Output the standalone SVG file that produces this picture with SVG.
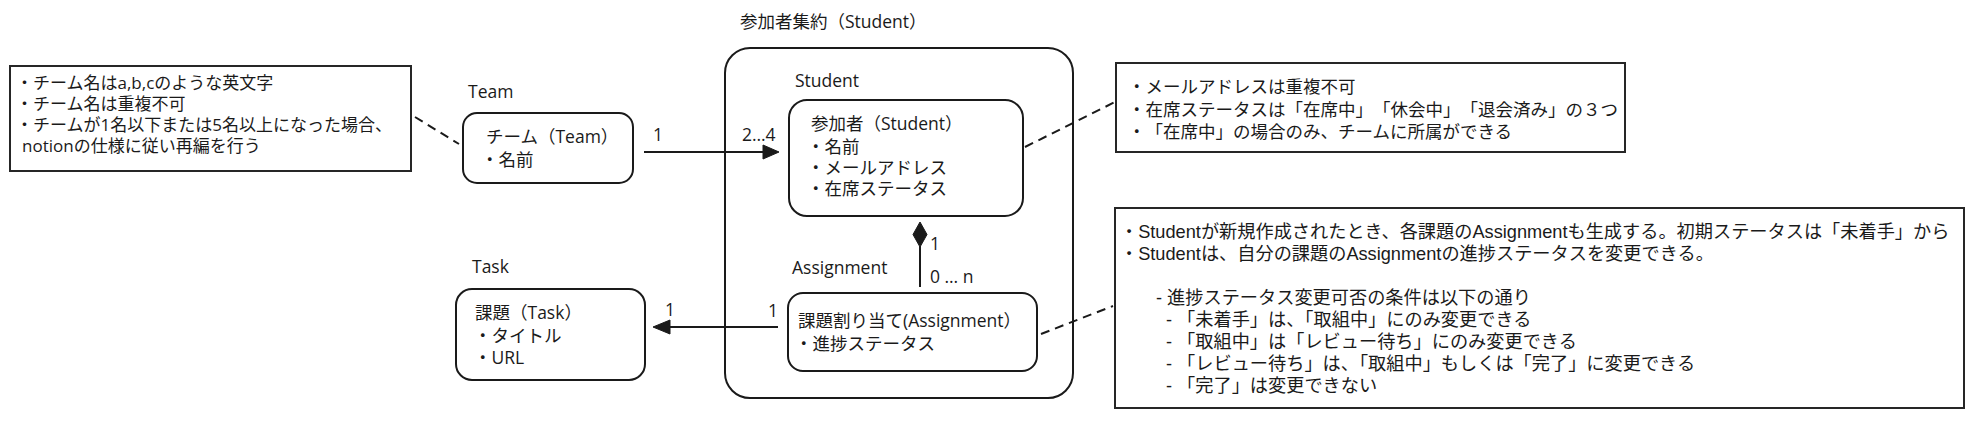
<svg xmlns="http://www.w3.org/2000/svg" width="1974" height="433" viewBox="0 0 1974 433">
<style>
text{font-family:'Open Sans','Noto Sans CJK JP',sans-serif;font-size:17.5px;fill:#1a1a1a}
.n1 text{font-size:17px}
.n2 text{font-size:17.5px;text-spacing-trim:space-all}
.n3 text{font-family:'Liberation Sans','Noto Sans CJK JP',sans-serif;font-size:18.2px}
.box{fill:#fff;stroke:#1a1a1a;stroke-width:2}
.note{fill:#fff;stroke:#262626;stroke-width:2}
.line{fill:none;stroke:#1a1a1a;stroke-width:2}
.dash{fill:none;stroke:#1a1a1a;stroke-width:2;stroke-dasharray:9 6}
.head{fill:#1a1a1a;stroke:#1a1a1a;stroke-width:1}
</style>
<rect width="1974" height="433" fill="#fff"/>

<g id="aggregate">
<rect class="box" x="725" y="48" width="348" height="350" rx="25"/>
<text x="740" y="28">参加者集約（Student）</text>
</g>

<g id="note-team" class="n1">
<rect class="note" x="10" y="66" width="401" height="105"/>
<text x="16" y="88.5">・チーム名はa,b,cのような英文字</text>
<text x="16" y="109.5">・チーム名は重複不可</text>
<text x="16" y="130.5">・チームが1名以下または5名以上になった場合、</text>
<text x="22" y="151.5">notionの仕様に従い再編を行う</text>
</g>

<g id="team">
<text x="468" y="98">Team</text>
<rect class="box" x="463" y="113" width="170" height="70" rx="14"/>
<text x="486" y="143">チーム（Team）</text>
<text x="481" y="166">・名前</text>
</g>

<g id="student">
<text x="795" y="87">Student</text>
<rect class="box" x="789" y="100" width="234" height="116" rx="18"/>
<text x="811" y="130">参加者（Student）</text>
<text x="807" y="152.5">・名前</text>
<text x="807" y="174">・メールアドレス</text>
<text x="807" y="195">・在席ステータス</text>
</g>

<g id="assignment">
<text x="792" y="274">Assignment</text>
<rect class="box" x="788" y="293" width="249" height="78" rx="15"/>
<text x="798" y="327">課題割り当て(Assignment）</text>
<text x="795" y="349.5">・進捗ステータス</text>
</g>

<g id="task">
<text x="472" y="273">Task</text>
<rect class="box" x="456" y="289" width="189" height="91" rx="16"/>
<text x="475" y="318.5">課題（Task）</text>
<text x="474" y="341.5">・タイトル</text>
<text x="474" y="363.5">・URL</text>
</g>

<g id="note-student" class="n2">
<rect class="note" x="1116" y="63" width="509" height="89"/>
<text x="1128" y="92.5">・メールアドレスは重複不可</text>
<text x="1128" y="115.5">・在席ステータスは「在席中」「休会中」「退会済み」の３つ</text>
<text x="1128" y="137.5">・「在席中」の場合のみ、チームに所属ができる</text>
</g>

<g id="note-assignment" class="n3">
<rect class="note" x="1115" y="208" width="849" height="200"/>
<text x="1120" y="238">・Studentが新規作成されたとき、各課題のAssignmentも生成する。初期ステータスは「未着手」から</text>
<text x="1120" y="260">・Studentは、自分の課題のAssignmentの進捗ステータスを変更できる。</text>
<text x="1156" y="304">- 進捗ステータス変更可否の条件は以下の通り</text>
<text x="1166" y="326">- 「未着手」は、「取組中」にのみ変更できる</text>
<text x="1166" y="348">- 「取組中」は「レビュー待ち」にのみ変更できる</text>
<text x="1166" y="370">- 「レビュー待ち」は、「取組中」もしくは「完了」に変更できる</text>
<text x="1166" y="392">- 「完了」は変更できない</text>
</g>

<g id="connectors">
<line class="dash" x1="415" y1="117" x2="459" y2="144"/>
<line class="dash" x1="1025" y1="147" x2="1115" y2="102"/>
<line class="dash" x1="1041" y1="334" x2="1113" y2="306"/>

<line class="line" x1="644" y1="152" x2="765" y2="152"/>
<polygon class="head" points="779,152 763,145 763,159"/>
<text x="653" y="141">1</text>
<text x="742" y="141">2…4</text>

<line class="line" x1="920" y1="287" x2="920" y2="246"/>
<polygon class="head" points="920,222 927,234.5 920,247 913,234.5"/>
<text x="930" y="250">1</text>
<text x="930" y="283">0 … n</text>

<line class="line" x1="778" y1="327" x2="668" y2="327"/>
<polygon class="head" points="653,327 670,320 670,334"/>
<text x="768" y="317">1</text>
<text x="665" y="316">1</text>
</g>
</svg>
